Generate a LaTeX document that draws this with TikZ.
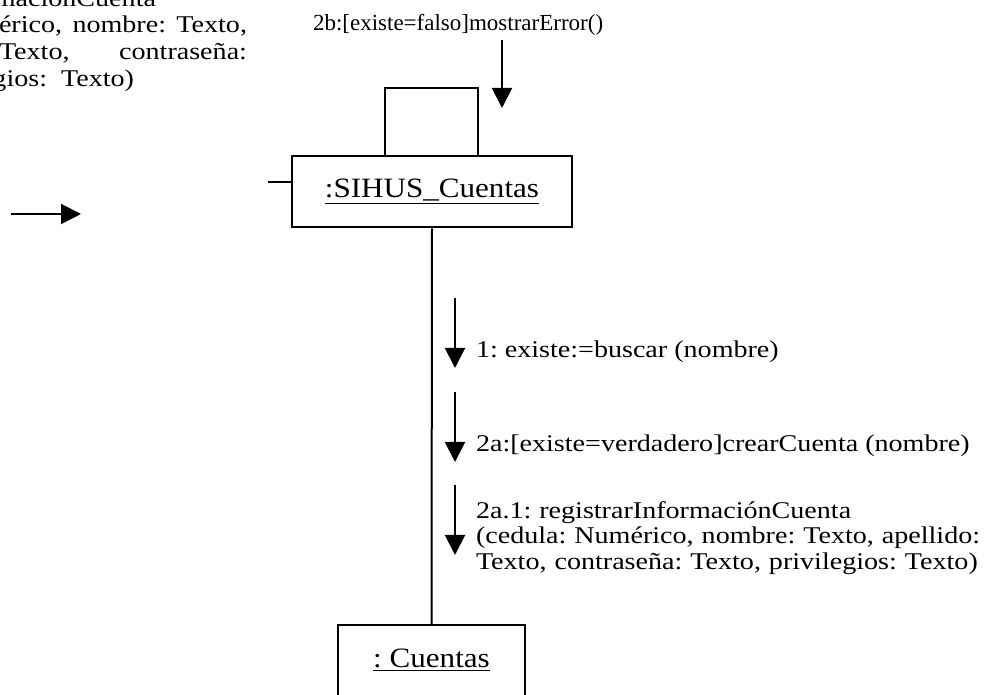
\documentclass[tikz,border=0pt]{standalone}
\usepackage{fontspec}
\setmainfont{Liberation Serif}
\newfontfamily\msgfont{Liberation Serif}[FakeStretch=1.17]
\newfontfamily\objfont{Liberation Serif}[FakeStretch=1.11]
\usetikzlibrary{arrows.meta, positioning, calc}
\frenchspacing

\begin{document}
\begin{tikzpicture}[x=0.5pt, y=-0.5pt, line width=1pt,
  font=\fontsize{12}{12.75}\selectfont,
  obj/.style={draw, inner sep=0pt, minimum width=#1, minimum height=35.5pt,
              font=\objfont\fontsize{14}{16}\selectfont},
  msg/.style={-{Triangle[length=10pt, width=10pt]}},
  lbl/.style={inner sep=0pt, anchor=base west,
              font=\msgfont\fontsize{12}{12.75}\selectfont},
  frag/.style={inner sep=0pt, anchor=base east,
               font=\msgfont\fontsize{12}{12.75}\selectfont}]
  \useasboundingbox (0,0) rectangle (992,695);
  \clip (0,0) rectangle (992,695);
  % objects
  \node[obj=140pt] (sihus) at (432,192) {\underline{:SIHUS\_Cuentas}};
  \node[obj=93.5pt] (cuentas) at (431.5,660.5) {\underline{: Cuentas}};
  \draw (sihus.south) -- (cuentas.north);
  % self link and stub
  \coordinate (lp1) at (385,88);
  \coordinate (lp2) at (478,88);
  \draw (sihus.north -| lp1) -- (lp1) -- (lp2) -- (sihus.north -| lp2);
  \coordinate (stub) at (268,182);
  \draw (stub) -- (stub -| sihus.west);
  % messages
  \node[lbl, font=\fontsize{11.5}{12.75}\selectfont] (m2b) at (312,31)
    {2b:[existe=falso]mostrarError()};
  \node[lbl] (m1) at (475,358) {1: existe:=buscar (nombre)};
  \node[lbl] (m2a) at (475,452) {2a:[existe=verdadero]crearCuenta (nombre)};
  \node[lbl, text width=275pt, align=left] (m3) at (475,518)
    {2a.1: registrarInformaciónCuenta\\
     \makebox[253.5pt][s]{(cedula: Numérico, nombre: Texto, apellido:}\\
     Texto, contraseña: Texto, privilegios: Texto)};
  \coordinate (a2b) at (502,40);
  \coordinate (a1) at (455,298);
  \coordinate (a2a) at (455,392);
  \coordinate (a3) at (455,485);
  \draw[msg] (a2b) -- ++(0,68);
  \draw[msg] (a1) -- ++(0,70);
  \draw[msg] (a2a) -- ++(0,70);
  \draw[msg] (a3) -- ++(0,70);
  % left side, cut off
  \node[frag] (f1) at (157,7) {maciónCuenta};
  \node[frag] (f2) at (248,33) {\makebox[124pt][s]{érico, nombre: Texto,}};
  \node[frag] (f3) at (248,60) {\makebox[124pt][s]{Texto, contraseña:}};
  \node[frag] (f4) at (135,87) {gios:\ \ Texto)};
  \coordinate (in1) at (11,214);
  \coordinate (in2) at (81,214);
  \draw[msg] (in1) -- (in2);
\end{tikzpicture}
\end{document}
